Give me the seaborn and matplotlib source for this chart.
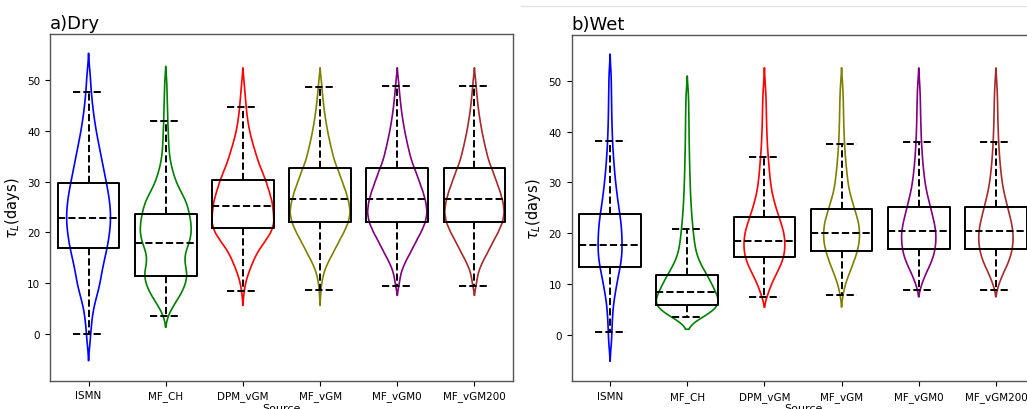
import numpy as np
import pandas as pd
import matplotlib
matplotlib.use('Agg')
import matplotlib.pyplot as plt
from matplotlib.lines import Line2D
import seaborn as sns

sources = ['ISMN', 'MF_CH', 'DPM_vGM', 'MF_vGM', 'MF_vGM0', 'MF_vGM200']
colors = ['blue', 'green', 'red', 'olive', 'purple', 'brown']

# tau_L classes (days) and relative frequency
days = [-2, 0, 2, 4, 6, 8, 10, 12, 14, 16, 18, 20, 22, 24, 26, 28,
        30, 32, 34, 36, 38, 40, 42, 44, 46, 48, 50, 52, 54]

dry_density = {
    'ISMN':      [1.5, 2, 3, 4, 6, 9, 11.5, 13, 15, 17.5, 19.5, 21, 22, 22, 21, 19.5,
                  17.5, 15.5, 13.5, 11.5, 9.5, 7.5, 6, 4.5, 3.5, 2.5, 2, 1.3, 0],
    'MF_CH':     [0, 0, 0, 3, 9, 15.5, 20, 21.5, 18.5, 19, 23.5, 25.5, 25, 23, 20.5, 15,
                  10, 7, 4.5, 3.3, 2.8, 2.4, 2, 1.8, 1.5, 1.2, 1, 0, 0],
    'DPM_vGM':   [0, 0, 0, 0, 0, 1, 2.5, 5.5, 9.5, 14, 21, 28, 31, 30, 29, 26,
                  23, 19, 15, 12, 9, 6.5, 4.8, 3.5, 2.7, 1.8, 1, 0, 0],
    'MF_vGM':    [0, 0, 0, 0, 0, 0.6, 1.5, 3.5, 7.5, 13, 18, 23.5, 28, 30, 28.3, 25.5,
                  21.8, 18.3, 14.2, 11.7, 9.4, 7.3, 5.6, 4.1, 3, 2, 1.2, 0, 0],
    'MF_vGM0':   [0, 0, 0, 0, 0, 0, 2.1, 3.5, 7.5, 13, 18, 23.5, 28, 29.7, 28.3, 25.5,
                  21.8, 18.3, 14.2, 11.7, 9.4, 7.3, 5.6, 4.1, 3, 2, 1.2, 0, 0],
    'MF_vGM200': [0, 0, 0, 0, 0, 0, 2.1, 3.5, 7.5, 13, 18, 23.5, 28, 29.7, 28.3, 25.5,
                  21.8, 18.3, 14.2, 11.7, 9.4, 7.3, 5.6, 4.1, 3, 2, 1.2, 0, 0],
}

wet_density = {
    'ISMN':      [1.4, 1.7, 2, 2.6, 3.3, 5, 6.7, 8.7, 10.8, 12, 12, 11.7, 11, 9.5, 8, 6.7,
                  5.5, 4.5, 3.8, 3, 2.5, 2.1, 1.8, 1.6, 1.5, 1.3, 1.2, 1, 0],
    'MF_CH':     [0, 0, 0, 20, 31, 26, 22, 17, 11.5, 8, 6.5, 5.5, 4.6, 3.9, 3.3, 2.9,
                  2.6, 2.3, 2.1, 1.9, 1.7, 1.6, 1.5, 1.4, 1.2, 1, 0, 0, 0],
    'DPM_vGM':   [0, 0, 0, 0, 0, 3.5, 7, 12, 17, 20, 20.5, 19.5, 16.5, 13, 10, 7.5,
                  6, 5, 4.2, 3.4, 2.8, 2.4, 2.1, 1.9, 1.7, 1.3, 0.6, 0, 0],
    'MF_vGM':    [0, 0, 0, 0, 0, 1.5, 3.8, 7.5, 11.5, 15, 17.5, 18, 17, 14, 11, 8,
                  6.3, 5.2, 4.2, 3.4, 2.8, 2.4, 2.1, 1.9, 1.7, 1.4, 0.8, 0, 0],
    'MF_vGM0':   [0, 0, 0, 0, 0, 0, 3, 7, 12, 15.5, 17, 17.2, 15.5, 13, 10.5, 8,
                  6.2, 5, 4, 3.3, 2.7, 2.3, 2, 1.8, 1.6, 1.3, 0.8, 0, 0],
    'MF_vGM200': [0, 0, 0, 0, 0, 0, 3, 7, 12, 15.5, 17, 17.2, 15.5, 13, 10.5, 8,
                  6.2, 5, 4, 3.3, 2.7, 2.3, 2, 1.8, 1.6, 1.3, 0.8, 0, 0],
}

# box summaries: lower whisker, Q1, median, Q3, upper whisker
dry_box = {
    'ISMN':      [0.0, 16.9, 22.8, 29.7, 47.6],
    'MF_CH':     [3.6, 11.5, 18.0, 23.6, 41.9],
    'DPM_vGM':   [8.5, 20.9, 25.1, 30.4, 44.7],
    'MF_vGM':    [8.6, 22.0, 26.5, 32.7, 48.6],
    'MF_vGM0':   [9.4, 22.0, 26.6, 32.7, 48.8],
    'MF_vGM200': [9.4, 22.0, 26.6, 32.7, 48.8],
}
wet_box = {
    'ISMN':      [0.5, 13.3, 17.7, 23.7, 38.1],
    'MF_CH':     [3.4, 5.8, 8.4, 11.8, 20.9],
    'DPM_vGM':   [7.5, 15.3, 18.5, 23.1, 35.0],
    'MF_vGM':    [7.8, 16.4, 20.1, 24.7, 37.5],
    'MF_vGM0':   [8.7, 16.8, 20.5, 25.2, 38.0],
    'MF_vGM200': [8.7, 16.8, 20.5, 25.2, 38.0],
}


def draw(ax, density, box, title):
    peaks = [max(density[s]) for s in sources]
    # one violin per call so each gets its own width (widest one = 0.8)
    for s, c, pk in zip(sources, colors, peaks):
        vals = np.repeat(days, np.round(np.array(density[s]) * 10).astype(int))
        sns.violinplot(x=[s] * len(vals), y=vals, order=sources, color=c,
                       fill=False, inner=None, cut=2, bw_method=0.15,
                       gridsize=300, density_norm='width',
                       width=0.8 * pk / max(peaks), saturation=1,
                       linewidth=1.2, ax=ax)

    bdf = pd.DataFrame([(s, v) for s in sources for v in box[s]],
                       columns=['Source', 'tau'])
    sns.boxplot(data=bdf, x='Source', y='tau', order=sources, color='black',
                fill=False, width=0.8, whis=(0, 100), showfliers=False,
                linewidth=1.4,
                medianprops={'linestyle': '--'},
                whiskerprops={'linestyle': '--'},
                capprops={'linestyle': '--'}, ax=ax)

    ax.set_xlim(-0.5, 5.5)
    ax.set_ylim(-9.15, 59.05)
    ax.set_yticks([0, 10, 20, 30, 40, 50])
    ax.set_title(title, loc='left', fontsize=13, pad=4)
    ax.set_xlabel('Source', fontsize=8, labelpad=1)
    ax.set_ylabel(r'$\tau_L$(days)', fontsize=10.5)
    ax.tick_params(labelsize=7.5)
    for sp in ax.spines.values():
        sp.set_color('#555555')
        sp.set_linewidth(1.0)


fig = plt.figure(figsize=(10.27, 4.1), dpi=100)
ax1 = fig.add_axes([50 / 1027, 1 - 381.5 / 410, 463 / 1027, 346.5 / 410])
ax2 = fig.add_axes([571.5 / 1027, 1 - 382 / 410, 463 / 1027, 346 / 410])

draw(ax1, dry_density, dry_box, 'a)Dry')
draw(ax2, wet_density, wet_box, 'b)Wet')

# thin separator of the original screenshot
fig.add_artist(Line2D([521 / 1027, 1], [1 - 7 / 410, 1 - 7 / 410],
                      color='#e2e2e2', lw=1))

fig.savefig('out.png', dpi=100)
